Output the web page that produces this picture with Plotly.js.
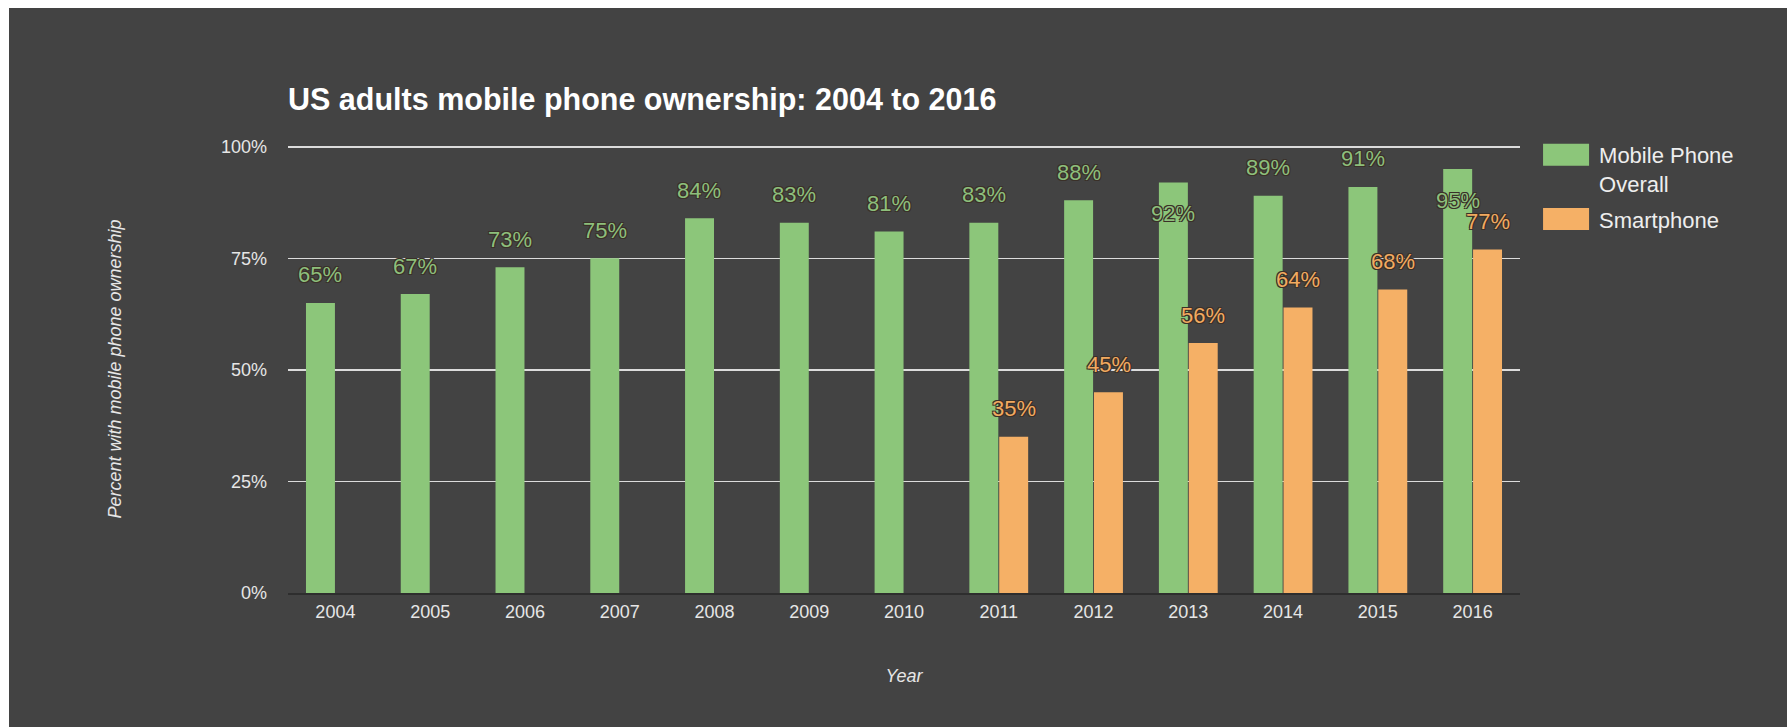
<!DOCTYPE html>
<html>
<head>
<meta charset="utf-8">
<script src="https://cdn.plot.ly/plotly-3.0.1.min.js"></script>
<style>
  html, body { margin: 0; padding: 0; background: #ffffff; overflow: hidden; }
  #chart { position: absolute; left: 9px; top: 8px; width: 1778px; height: 719px; }
</style>
</head>
<body>
<div id="chart"></div>
<script>
// ---- data ----
const years = ['2004','2005','2006','2007','2008','2009','2010','2011','2012','2013','2014','2015','2016'];
const mobileOverall = [65, 67, 73, 75, 84, 83, 81, 83, 88, 92, 89, 91, 95];
const smartphone = [null, null, null, null, null, null, null, 35, 45, 56, 64, 68, 77];
const seriesNames = ['Mobile Phone<br>Overall', 'Smartphone'];
const yTicks = [0, 25, 50, 75, 100];
const yTickText = ['0%', '25%', '50%', '75%', '100%'];
// years whose "overall" label sits inside the bar top (as in the original)
const overallLabelInside = ['2013', '2016'];

// ---- style ----
const BG = '#434343';
const GREEN = '#8cc67a';
const ORANGE = '#f5b066';
const GREEN_TXT = '#8dbf7c';
const ORANGE_TXT = '#f2aa60';
const FONT = 'Liberation Sans, Arial, Helvetica, sans-serif';
const outline = '-1px -1px 0 #3a3028, 1px -1px 0 #3a3028, -1px 1px 0 #3a3028, 1px 1px 0 #3a3028';

const traces = [
  {
    type: 'bar', name: seriesNames[0], x: years, y: mobileOverall, legendgroup: 'overall',
    marker: { color: GREEN, line: { width: 0 } },
    hoverinfo: 'x+y'
  },
  {
    type: 'bar', name: seriesNames[1], x: years, y: smartphone, legendgroup: 'smart',
    marker: { color: ORANGE, line: { width: 0 } },
    hoverinfo: 'x+y'
  }
];

// data labels: x given as category serial number (index in years)
const annotations = [];
years.forEach((yr, i) => {
  const v = mobileOverall[i];
  if (v != null) {
    const inside = overallLabelInside.indexOf(yr) >= 0;
    annotations.push({
      x: i, y: v, xref: 'x', yref: 'y', text: v + '%', showarrow: false,
      xanchor: 'center', yanchor: 'middle', xshift: -15, yshift: inside ? -31 : 28,
      font: { family: FONT, size: 22, color: GREEN_TXT, shadow: outline }
    });
  }
  const s = smartphone[i];
  if (s != null) {
    annotations.push({
      x: i, y: s, xref: 'x', yref: 'y', text: s + '%', showarrow: false,
      xanchor: 'center', yanchor: 'middle', xshift: 15, yshift: 28,
      font: { family: FONT, size: 22, color: ORANGE_TXT, shadow: outline }
    });
  }
});

const layout = {
  width: 1778, height: 719,
  paper_bgcolor: BG, plot_bgcolor: BG,
  margin: { l: 279, r: 267, t: 137, b: 134, pad: 0 },
  font: { family: FONT, color: '#e6e6e6' },
  title: {
    text: '<b>US adults mobile phone ownership: 2004 to 2016</b>',
    font: { family: FONT, size: 30.5, color: '#ffffff' },
    x: 0, xref: 'paper', xanchor: 'left',
    y: 1 - 91 / 719, yref: 'container', yanchor: 'middle'
  },
  barmode: 'group', bargap: 0.37, bargroupgap: 0.03,
  showlegend: true,
  legend: {
    x: 1.0106, xanchor: 'left', y: 1.0245, yanchor: 'top',
    valign: 'top', bgcolor: 'rgba(0,0,0,0)',
    font: { family: FONT, size: 22, color: '#eeeeee' },
    itemwidth: 56, tracegroupgap: 4
  },
  xaxis: {
    type: 'category', range: [-0.5, years.length - 0.5], autorange: false,
    showgrid: false, zeroline: false,
    showline: true, linecolor: '#2e2e2e', linewidth: 2,
    ticks: '', ticklabelstandoff: 1,
    tickfont: { family: FONT, size: 18, color: '#e6e6e6' },
    title: { text: '<i>Year</i>', font: { family: FONT, size: 18, color: '#e6e6e6' }, standoff: 49 }
  },
  yaxis: {
    range: [0, 100.4], autorange: false, tickvals: yTicks, ticktext: yTickText,
    showgrid: true, gridcolor: '#dcdcdc', gridwidth: 1.5,
    zeroline: false, showline: false, ticks: '', ticklabelstandoff: 20,
    tickfont: { family: FONT, size: 18, color: '#e6e6e6' },
    title: { text: '<i>Percent with mobile phone ownership</i>', font: { family: FONT, size: 18, color: '#e6e6e6' }, standoff: 94 }
  },
  annotations: annotations
};

Plotly.newPlot('chart', traces, layout, { displayModeBar: false, staticPlot: true }).then(gd => {
  // enlarge the legend swatches to the wide boxes of the original
  gd.querySelectorAll('.legend .legendpoints path').forEach(p => {
    p.setAttribute('d', 'M-23,-11H23V11H-23Z');
  });
});
</script>
</body>
</html>
